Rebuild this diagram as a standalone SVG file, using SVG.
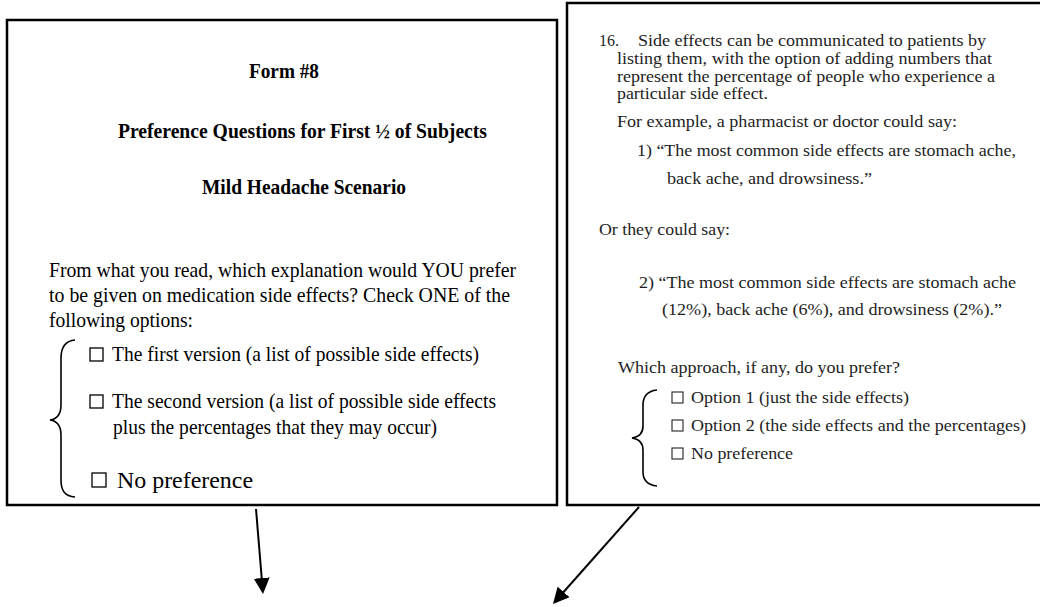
<svg xmlns="http://www.w3.org/2000/svg" width="1040" height="607" viewBox="0 0 1040 607">
<style>
.frame{fill:#fff;stroke:#000;stroke-width:2.5}
.h{font-family:"Liberation Serif",serif;font-weight:bold;font-size:21px;fill:#000}
.b{font-family:"Liberation Serif",serif;font-size:21px;fill:#000}
.big{font-family:"Liberation Serif",serif;font-size:24px;fill:#000}
.r{font-family:"Liberation Serif",serif;font-size:16px;fill:#1e1e1e}
.cb{fill:none;stroke:#000;stroke-width:1.3}
.cbr{fill:none;stroke:#222;stroke-width:1.1}
.brace{fill:none;stroke:#000;stroke-width:1.6}
.conn{fill:none;stroke:#000;stroke-width:2}
</style>
<defs>
<marker id="ah" viewBox="0 0 16 16" refX="6" refY="8" markerWidth="16" markerHeight="16" markerUnits="userSpaceOnUse" orient="auto">
<path d="M0,0 L16,8 L0,16 Z" fill="#000"/>
</marker>
</defs>
<rect width="1040" height="607" fill="#fff"/>
<g id="form8">
<rect class="frame" x="7" y="20" width="550" height="485"/>
<text class="h" x="249" y="78" textLength="70" lengthAdjust="spacingAndGlyphs">Form #8</text>
<text class="h" x="118" y="138" textLength="369" lengthAdjust="spacingAndGlyphs">Preference Questions for First ½ of Subjects</text>
<text class="h" x="202" y="194" textLength="204" lengthAdjust="spacingAndGlyphs">Mild Headache Scenario</text>
<text class="b" x="49" y="277" textLength="467" lengthAdjust="spacingAndGlyphs">From what you read, which explanation would YOU prefer</text>
<text class="b" x="49" y="302" textLength="461" lengthAdjust="spacingAndGlyphs">to be given on medication side effects? Check ONE of the</text>
<text class="b" x="49" y="327" textLength="144" lengthAdjust="spacingAndGlyphs">following options:</text>
<path class="brace" d="M75,340 C65,341 61,347 61,358 L61,405 C61,415 57,419 50,420 C57,421 61,425 61,435 L61,480 C61,491 65,496 75,497"/>
<rect class="cb" x="90" y="348" width="13" height="13"/>
<text class="b" x="112" y="361" textLength="367" lengthAdjust="spacingAndGlyphs">The first version (a list of possible side effects)</text>
<rect class="cb" x="90" y="395" width="13" height="13"/>
<text class="b" x="112" y="408" textLength="384" lengthAdjust="spacingAndGlyphs">The second version (a list of possible side effects</text>
<text class="b" x="113" y="434" textLength="324" lengthAdjust="spacingAndGlyphs">plus the percentages that they may occur)</text>
<rect class="cb" x="92" y="473" width="14" height="14"/>
<text class="big" x="117" y="488" textLength="136" lengthAdjust="spacingAndGlyphs">No preference</text>
</g>
<g id="q16">
<rect class="frame" x="567" y="3" width="490" height="502"/>
<text class="r" x="599" y="46">16.</text>
<text class="r" x="638" y="46" textLength="348" lengthAdjust="spacingAndGlyphs">Side effects can be communicated to patients by</text>
<text class="r" x="617" y="64" textLength="375" lengthAdjust="spacingAndGlyphs">listing them, with the option of adding numbers that</text>
<text class="r" x="617" y="82" textLength="378" lengthAdjust="spacingAndGlyphs">represent the percentage of people who experience a</text>
<text class="r" x="617" y="99" textLength="151" lengthAdjust="spacingAndGlyphs">particular side effect.</text>
<text class="r" x="617" y="127" textLength="340" lengthAdjust="spacingAndGlyphs">For example, a pharmacist or doctor could say:</text>
<text class="r" x="637" y="156" textLength="379" lengthAdjust="spacingAndGlyphs">1) “The most common side effects are stomach ache,</text>
<text class="r" x="667" y="184" textLength="205" lengthAdjust="spacingAndGlyphs">back ache, and drowsiness.”</text>
<text class="r" x="599" y="235" textLength="131" lengthAdjust="spacingAndGlyphs">Or they could say:</text>
<text class="r" x="639" y="288" textLength="377" lengthAdjust="spacingAndGlyphs">2) “The most common side effects are stomach ache</text>
<text class="r" x="662" y="315" textLength="340" lengthAdjust="spacingAndGlyphs">(12%), back ache (6%), and drowsiness (2%).”</text>
<text class="r" x="618" y="373" textLength="282" lengthAdjust="spacingAndGlyphs">Which approach, if any, do you prefer?</text>
<path class="brace" d="M657,390 C648,391 643,396 643,405 L643,426 C643,434 639,437 632,438 C639,439 643,442 643,450 L643,472 C643,481 648,485 657,486"/>
<rect class="cbr" x="672" y="392" width="11" height="11"/>
<text class="r" x="691" y="403" textLength="218" lengthAdjust="spacingAndGlyphs">Option 1 (just the side effects)</text>
<rect class="cbr" x="672" y="420" width="11" height="11"/>
<text class="r" x="691" y="431" textLength="335" lengthAdjust="spacingAndGlyphs">Option 2 (the side effects and the percentages)</text>
<rect class="cbr" x="672" y="448" width="11" height="11"/>
<text class="r" x="691" y="459" textLength="102" lengthAdjust="spacingAndGlyphs">No preference</text>
</g>
<g id="connectors">
<line class="conn" x1="256" y1="509" x2="262.2" y2="584" marker-end="url(#ah)"/>
<line class="conn" x1="639" y1="507" x2="559.6" y2="596.5" marker-end="url(#ah)"/>
</g>
</svg>
